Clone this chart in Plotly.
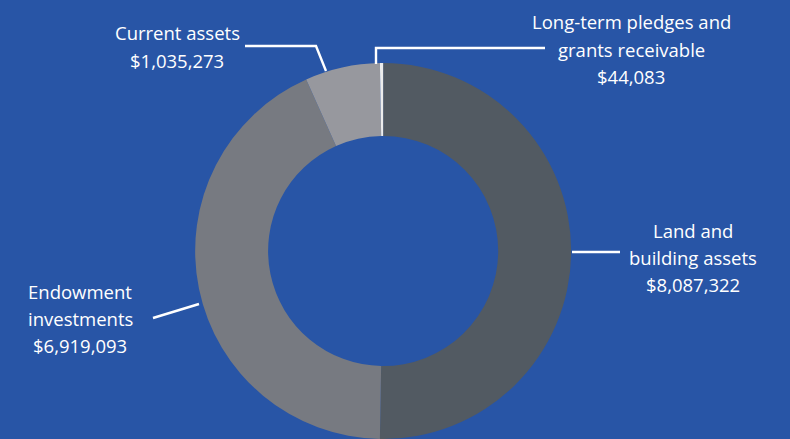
import plotly.graph_objects as go

W, H = 790, 439

categories = ["Land and building assets", "Endowment investments", "Current assets",
              "Long-term pledges and grants receivable"]
values = [8087322, 6919093, 1035273, 44083]
colors = ["#525a62", "#777a81", "#97989e", "#ececec"]

label_lines = [
    ["Land and", "building assets", "$8,087,322"],
    ["Endowment", "investments", "$6,919,093"],
    ["Current assets", "$1,035,273"],
    ["Long-term pledges and", "grants receivable", "$44,083"],
]
label_centers_x = [693, 80, 177, 631]
label_first_y = [230, 291, 32, 22]
label_spacing = [27, 27, 29, 27]

leaders = [
    [(572, 252), (620, 252)],
    [(153, 318), (199, 304)],
    [(245, 46), (316, 46), (326, 71)],
    [(376, 64), (376, 48), (545, 48)],
]

BG = "#2855a6"
FONT = "Open Sans"


def px(x):
    return x / W


def py(y):
    return 1 - y / H


fig = go.Figure(go.Pie(
    labels=categories,
    values=values,
    marker=dict(colors=colors, line=dict(width=0)),
    sort=False,
    direction="clockwise",
    rotation=0,
    hole=0.612,
    textinfo="none",
    hoverinfo="none",
    showlegend=False,
    domain=dict(x=[0.232, 0.738], y=[0, 0.8565]),
))

annotations = []
for lines, cx, y0, sp in zip(label_lines, label_centers_x, label_first_y, label_spacing):
    for i, t in enumerate(lines):
        annotations.append(dict(
            text=t, x=px(cx), y=py(y0 + i * sp), xref="paper", yref="paper",
            xanchor="center", yanchor="middle", showarrow=False,
            font=dict(family=FONT, size=18.5, color="white"),
        ))

shapes = []
for pts in leaders:
    path = "M " + " L ".join(f"{px(x)},{py(y)}" for x, y in pts)
    shapes.append(dict(type="path", path=path, xref="paper", yref="paper",
                       line=dict(color="white", width=2.4)))

fig.update_layout(
    width=W, height=H,
    margin=dict(l=0, r=0, t=0, b=0),
    paper_bgcolor=BG, plot_bgcolor=BG,
    annotations=annotations,
    shapes=shapes,
)

fig.write_html(
    "out.html",
    config={"displayModeBar": False},
    post_script=(
        "document.body.style.margin='0px';"
        "document.body.style.padding='0px';"
        "document.body.style.overflow='hidden';"
        f"document.body.style.background='{BG}';"
    ),
)
